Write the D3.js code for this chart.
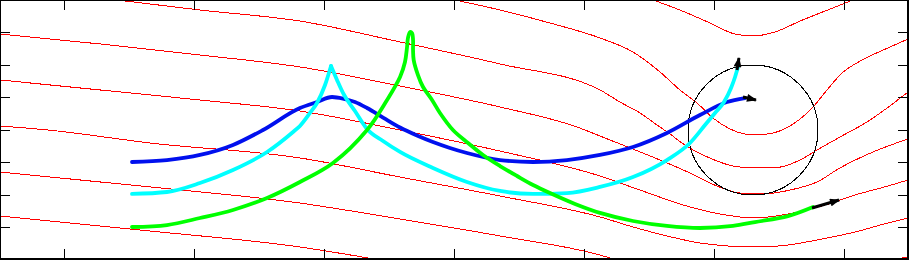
<!DOCTYPE html>
<html><head><meta charset="utf-8">
<script src="https://cdn.jsdelivr.net/npm/d3@7"></script>
<style>html,body{margin:0;padding:0;background:#fff;overflow:hidden}</style>
</head><body>
<svg id="chart" width="909" height="260"></svg>
<script>
// ---- axis ticks (no labels in the reference) ----
const xTicks = [0, 1, 2, 3, 4, 5, 6];
const yTicks = [-0.75, -0.5, -0.25, 0, 0.25, 0.5, 0.75];

// ---- red streamlines, [x, y] in data units ----
const streamT = [[4.531,1.0],[4.738,0.923],[4.969,0.823],[5.162,0.738],[5.300,0.723],[5.469,0.754],[5.662,0.838],[5.854,0.915],[6.069,1.0]];
const streamS = [[3.008,1.0],[3.354,0.923],[3.738,0.823],[4.123,0.708],[4.377,0.6],[4.585,0.446],[4.738,0.308],[4.869,0.208],[4.992,0.092],[5.123,0.008],[5.238,-0.031],[5.315,-0.038],[5.454,-0.023],[5.608,0.046],[5.762,0.177],[5.869,0.308],[5.985,0.438],[6.138,0.538],[6.338,0.631],[6.492,0.7]];
const streamA = [[0.408,1.0],[1.046,0.923],[1.815,0.838],[2.585,0.677],[3.354,0.508],[4.123,0.308],[4.277,0.215],[4.431,0.131],[4.562,0.038],[4.662,-0.031],[4.754,-0.1],[4.854,-0.162],[4.985,-0.223],[5.146,-0.277],[5.315,-0.292],[5.454,-0.292],[5.662,-0.231],[5.792,-0.154],[5.969,-0.054],[6.177,0.062],[6.331,0.169],[6.492,0.292]];
const streamB = [[-0.492,0.738],[0.277,0.662],[1.046,0.577],[1.815,0.485],[2.585,0.338],[3.354,0.177],[3.946,0.023],[4.123,-0.046],[4.431,-0.169],[4.585,-0.231],[4.815,-0.331],[5.023,-0.431],[5.200,-0.485],[5.377,-0.492],[5.585,-0.462],[5.792,-0.4],[5.969,-0.292],[6.223,-0.169],[6.492,-0.069]];
const streamC = [[-0.492,0.385],[0.277,0.308],[1.046,0.231],[1.815,0.146],[2.585,0.0],[3.354,-0.162],[4.123,-0.354],[4.431,-0.462],[4.815,-0.592],[5.046,-0.646],[5.315,-0.677],[5.569,-0.646],[5.831,-0.585],[6.085,-0.5],[6.338,-0.431],[6.492,-0.385]];
const streamD = [[-0.492,0.031],[-0.123,0.0],[0.662,-0.1],[1.815,-0.215],[2.585,-0.362],[3.354,-0.508],[4.123,-0.669],[4.377,-0.746],[4.638,-0.815],[4.892,-0.869],[5.315,-0.9],[5.569,-0.885],[5.831,-0.838],[6.085,-0.785],[6.338,-0.715],[6.492,-0.677]];
const streamELeft = [[-0.492,-0.323],[0.662,-0.438],[1.815,-0.562],[2.585,-0.685],[3.354,-0.815],[4.123,-0.962],[4.277,-1.008]];
const streamERight = [[6.315,-1.008],[6.492,-0.977]];
const streamF = [[-0.492,-0.662],[0.662,-0.777],[1.815,-0.9],[2.431,-1.0]];
const streamlines = [streamT, streamS, streamA, streamB, streamC, streamD, streamELeft, streamERight, streamF];

// ---- black circle ----
const circleCenter = [5.3, 0.0];
const circleRadius = 0.5;

// ---- trajectories ----
const blueTrack = [[0.523,-0.246],[0.792,-0.231],[1.046,-0.192],[1.3,-0.115],[1.531,0.0],[1.815,0.169],[1.946,0.215],[2.062,0.254],[2.146,0.242],[2.238,0.215],[2.331,0.169],[2.454,0.096],[2.585,0.019],[2.715,-0.042],[2.838,-0.092],[2.969,-0.138],[3.1,-0.177],[3.354,-0.231],[3.608,-0.246],[3.869,-0.231],[4.123,-0.192],[4.377,-0.131],[4.638,-0.023],[4.892,0.115],[5.1,0.215],[5.238,0.246]];
const cyanRise = [[0.523,-0.492],[0.792,-0.477],[1.046,-0.408],[1.3,-0.308],[1.562,-0.169],[1.762,-0.015],[1.815,0.031],[1.892,0.131],[1.946,0.208],[2.008,0.346],[2.054,0.492]];
const cyanFall = [[2.054,0.492],[2.1,0.385],[2.146,0.285],[2.238,0.146],[2.331,0.008],[2.454,-0.085],[2.585,-0.169],[2.838,-0.292],[3.1,-0.4],[3.354,-0.469],[3.608,-0.492],[3.869,-0.485],[4.123,-0.438],[4.377,-0.362],[4.638,-0.231],[4.815,-0.1],[4.931,0.038],[5.008,0.131],[5.077,0.215],[5.131,0.323],[5.162,0.408],[5.185,0.485]];
const greenTrack = [[0.523,-0.746],[0.792,-0.731],[1.046,-0.677],[1.3,-0.615],[1.562,-0.523],[1.815,-0.4],[2.069,-0.254],[2.331,0.0],[2.485,0.231],[2.585,0.408],[2.623,0.523],[2.638,0.631],[2.646,0.708],[2.662,0.754],[2.677,0.746],[2.685,0.692],[2.685,0.615],[2.69,0.538],[2.723,0.423],[2.762,0.331],[2.831,0.231],[2.892,0.131],[2.992,0.0],[3.108,-0.1],[3.223,-0.192],[3.354,-0.277],[3.485,-0.354],[3.608,-0.423],[3.738,-0.485],[3.931,-0.569],[4.123,-0.638],[4.377,-0.7],[4.638,-0.738],[4.892,-0.754],[5.146,-0.738],[5.315,-0.708],[5.569,-0.662],[5.762,-0.592]];

// ---- arrows at the ends of the tracks ----
const arrowFrom = [[5.223,0.254],[5.177,0.462],[5.754,-0.6]];
const arrowTo   = [[5.323,0.231],[5.192,0.554],[5.962,-0.538]];

const svg = d3.select("#chart");
const x = d3.scaleLinear().domain([-0.5, 6.5]).range([-1, 909]);
const y = d3.scaleLinear().domain([-1, 1]).range([260, 0]);

const defs = svg.append("defs");
defs.append("clipPath").attr("id", "clip").append("rect")
  .attr("x", 0).attr("y", 0).attr("width", 908).attr("height", 259);
defs.append("marker").attr("id", "ah")
  .attr("viewBox", "0 0 10 8").attr("refX", 9).attr("refY", 4)
  .attr("markerWidth", 11).attr("markerHeight", 8)
  .attr("markerUnits", "userSpaceOnUse").attr("orient", "auto")
  .append("path").attr("d", "M0,0L10,4L0,8Z").attr("fill", "#000");

const plot = svg.append("g").attr("clip-path", "url(#clip)");
const smooth = d3.line().x(d => x(d[0])).y(d => y(d[1])).curve(d3.curveMonotoneX);
const loopLine = d3.line().x(d => x(d[0])).y(d => y(d[1])).curve(d3.curveCatmullRom.alpha(0.5));

plot.append("g").attr("shape-rendering", "crispEdges")
  .selectAll("path").data(streamlines).join("path")
  .attr("d", smooth).attr("fill", "none").attr("stroke", "#ff0000").attr("stroke-width", 1);

plot.append("ellipse").attr("shape-rendering", "crispEdges")
  .attr("cx", x(circleCenter[0])).attr("cy", y(circleCenter[1]))
  .attr("rx", x(circleCenter[0] + circleRadius) - x(circleCenter[0]))
  .attr("ry", y(circleCenter[1] - circleRadius) - y(circleCenter[1]))
  .attr("fill", "none").attr("stroke", "#000").attr("stroke-width", 1);

const tracks = [
  {pts: blueTrack, color: "#0010ee", gen: smooth},
  {pts: cyanRise, color: "#00ffff", gen: smooth},
  {pts: cyanFall, color: "#00ffff", gen: smooth},
  {pts: greenTrack, color: "#00ff00", gen: loopLine}
];
plot.append("g").selectAll("path").data(tracks).join("path")
  .attr("d", d => d.gen(d.pts)).attr("fill", "none").attr("stroke", d => d.color)
  .attr("stroke-width", 3.8).attr("stroke-linejoin", "round").attr("stroke-linecap", "round");

plot.append("g").selectAll("line").data(arrowFrom).join("line")
  .attr("x1", d => x(d[0])).attr("y1", d => y(d[1]))
  .attr("x2", (d, i) => x(arrowTo[i][0])).attr("y2", (d, i) => y(arrowTo[i][1]))
  .attr("stroke", "#000").attr("stroke-width", 3).attr("marker-end", "url(#ah)");

// ---- frame and ticks ----
const axes = svg.append("g").attr("shape-rendering", "crispEdges").attr("stroke", "#000");
axes.append("rect").attr("x", 0).attr("y", 0).attr("width", 908).attr("height", 259)
  .attr("fill", "none").attr("stroke-width", 2);
const tk = 10;
axes.selectAll(".xt").data(xTicks).join("g").attr("class", "xt").each(function(v) {
  const g = d3.select(this), px = Math.round(x(v)) + 0.5;
  g.append("line").attr("x1", px).attr("x2", px).attr("y1", 0).attr("y2", tk);
  g.append("line").attr("x1", px).attr("x2", px).attr("y1", 259 - tk).attr("y2", 259);
});
axes.selectAll(".yt").data(yTicks).join("g").attr("class", "yt").each(function(v) {
  const g = d3.select(this), py = Math.floor(y(v)) + 0.5;
  g.append("line").attr("x1", 0).attr("x2", tk).attr("y1", py).attr("y2", py);
  g.append("line").attr("x1", 908 - tk).attr("x2", 908).attr("y1", py).attr("y2", py);
});
</script>
</body></html>
